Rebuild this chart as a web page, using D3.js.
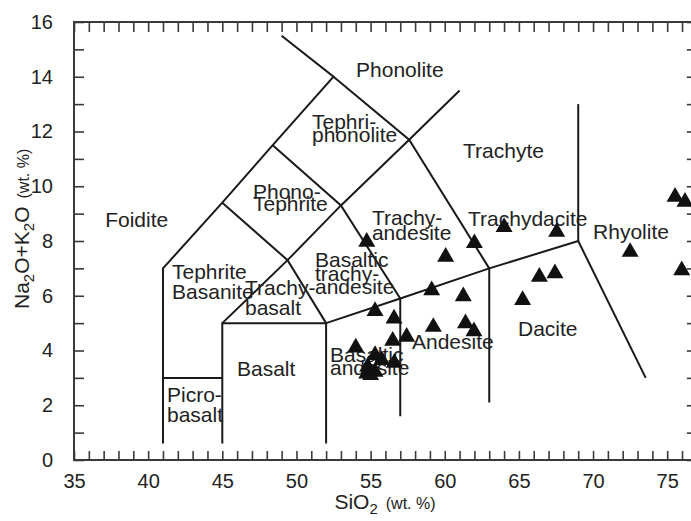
<!DOCTYPE html>
<html>
<head>
<meta charset="utf-8">
<script src="https://cdn.jsdelivr.net/npm/d3@7"></script>
<style>
  html, body { margin: 0; padding: 0; background: #fff; }
  svg { display: block; font-family: "Liberation Sans", Arial, sans-serif; }
</style>
</head>
<body>
<div id="chart"></div>
<script>
// TAS (total alkali vs silica) classification diagram

// axis extents and labelled ticks
const xDomain = [35, 77];
const yDomain = [0, 16];
const xTickLabels = [35, 40, 45, 50, 55, 60, 65, 70, 75];
const yTickLabels = [0, 2, 4, 6, 8, 10, 12, 14, 16];

// field boundaries (SiO2, Na2O+K2O)
const boundaries = [
  [[41, 0.6], [41, 7], [45, 9.4], [48.4, 11.5], [52.5, 14], [49, 15.5]],
  [[41, 3], [45, 3]],
  [[45, 0.6], [45, 5], [52, 5], [52, 0.6]],
  [[52, 5], [57, 5.9], [63, 7], [69, 8], [73.55, 3]],
  [[57, 1.6], [57, 5.9], [53, 9.3], [48.4, 11.5]],
  [[63, 2.1], [63, 7], [57.6, 11.7], [52.5, 14]],
  [[45, 5], [49.4, 7.3], [53, 9.3], [57.6, 11.7], [61, 13.5]],
  [[45, 9.4], [49.4, 7.3], [52, 5]],
  [[69, 8], [69, 13]]
];

// field names: lines, left edge and first baseline
const fieldNames = [
  { lines: ["Phonolite"], x: 54.02, y: 13.99, step: 0 },
  { lines: ["Tephri-", "phonolite"], x: 51.05, y: 12.09, step: 13 },
  { lines: ["Trachyte"], x: 61.23, y: 11.05, step: 0 },
  { lines: ["Phono-", "Tephrite"], x: 47.07, y: 9.53, step: 12 },
  { lines: ["Foidite"], x: 37.1, y: 8.51, step: 0 },
  { lines: ["Trachy-", "andesite"], x: 55.09, y: 8.57, step: 15 },
  { lines: ["Trachydacite"], x: 61.57, y: 8.55, step: 0 },
  { lines: ["Rhyolite"], x: 70.0, y: 8.07, step: 0 },
  { lines: ["Basaltic", "trachy-", "andesite"], x: 51.25, y: 7.05, step: 13.5 },
  { lines: ["Tephrite", "Basanite"], x: 41.61, y: 6.61, step: 20 },
  { lines: ["Trachy-", "basalt"], x: 46.53, y: 6.01, step: 20 },
  { lines: ["Dacite"], x: 64.94, y: 4.53, step: 0 },
  { lines: ["Andesite"], x: 57.79, y: 4.05, step: 0 },
  { lines: ["Basaltic", "andesite"], x: 52.26, y: 3.58, step: 13.5 },
  { lines: ["Basalt"], x: 45.99, y: 3.07, step: 0 },
  { lines: ["Picro-", "basalt"], x: 41.27, y: 2.12, step: 20 }
];

// samples
const sio2 = [54.74, 60.06, 62.0, 64.0, 59.12, 61.25, 55.3, 56.58, 59.23, 61.4, 61.97,
              57.43, 56.49, 54.0, 55.3, 55.75, 54.8, 56.6, 54.74, 55.3, 55.0,
              67.55, 66.38, 67.43, 65.25, 72.5, 75.53, 76.2, 75.98];
const alkali = [7.97, 7.42, 7.92, 8.51, 6.2, 5.98, 5.44, 5.17, 4.86, 4.99, 4.7,
                4.5, 4.35, 4.11, 3.83, 3.65, 3.4, 3.55, 3.16, 3.22, 3.1,
                8.33, 6.69, 6.82, 5.84, 7.6, 9.61, 9.43, 6.93];

const W = 691, H = 521;
const x = d3.scaleLinear().domain(xDomain).range([74, 74 + 42 * 14.83]);
const y = d3.scaleLinear().domain(yDomain).range([460, 22]);

const svg = d3.select("#chart").append("svg")
  .attr("width", W).attr("height", H);

const ink = "#1a1a1a";
const axisInk = "#3a3a3a";

// integer ticks, all pointing into the plot
const xInts = d3.range(xDomain[0], xDomain[1] + 1);
const yInts = d3.range(yDomain[0], yDomain[1] + 1);

function styleAxis(g) {
  g.select(".domain").remove();
  g.selectAll(".tick line").attr("stroke", axisInk).attr("stroke-width", 1.6);
  g.selectAll(".tick text").attr("fill", "#222").attr("font-size", 20)
    .attr("font-family", "Liberation Sans, Arial, sans-serif");
}

svg.append("g").attr("transform", `translate(0,${y(0)})`)
  .call(d3.axisBottom(x).tickValues(xInts).tickSize(-9).tickPadding(14)
    .tickFormat(d => xTickLabels.includes(d) ? d : ""))
  .call(styleAxis);
svg.append("g").attr("transform", `translate(0,${y(16)})`)
  .call(d3.axisTop(x).tickValues(xInts).tickSize(-10).tickFormat(""))
  .call(styleAxis);
svg.append("g").attr("transform", `translate(${x(35)},0)`)
  .call(d3.axisLeft(y).tickValues(yInts).tickSize(-10).tickPadding(21)
    .tickFormat(d => yTickLabels.includes(d) ? d : ""))
  .call(styleAxis);
svg.append("g").attr("transform", `translate(${x(77)},0)`)
  .call(d3.axisRight(y).tickValues(yInts).tickSize(-10).tickFormat(""))
  .call(styleAxis);

// frame
svg.append("rect")
  .attr("x", x(35)).attr("y", y(16))
  .attr("width", x(77) - x(35)).attr("height", y(0) - y(16))
  .attr("fill", "none").attr("stroke", axisInk).attr("stroke-width", 2);

// field boundaries
const line = d3.line().x(d => x(d[0])).y(d => y(d[1]));
svg.append("g").selectAll("path").data(boundaries).join("path")
  .attr("d", line).attr("fill", "none")
  .attr("stroke", ink).attr("stroke-width", 2).attr("stroke-linejoin", "miter");

// field names
const names = svg.append("g").attr("fill", "#222").attr("font-size", 21);
fieldNames.forEach(f => {
  f.lines.forEach((t, i) => {
    names.append("text")
      .attr("x", x(f.x)).attr("y", y(f.y) + i * f.step)
      .text(t);
  });
});

// sample points
const tri = d3.symbol().type(d3.symbolTriangle).size(125);
svg.append("g").selectAll("path").data(sio2).join("path")
  .attr("transform", (d, i) => `translate(${x(d)},${y(alkali[i])})`)
  .attr("d", tri).attr("fill", "#111");

// axis titles
const yt = svg.append("text")
  .attr("transform", `translate(29,309) rotate(-90)`)
  .attr("fill", "#222").attr("font-size", 21);
yt.append("tspan").text("Na");
yt.append("tspan").attr("font-size", 15).attr("dy", 5).text("2");
yt.append("tspan").attr("dy", -5).text("O+K");
yt.append("tspan").attr("font-size", 15).attr("dy", 5).text("2");
yt.append("tspan").attr("dy", -5).text("O");
yt.append("tspan").attr("font-size", 16).attr("dx", 8).text("(wt. %)");

const xt = svg.append("text")
  .attr("x", 385).attr("y", 509).attr("text-anchor", "middle")
  .attr("fill", "#222").attr("font-size", 21);
xt.append("tspan").text("SiO");
xt.append("tspan").attr("font-size", 15).attr("dy", 5).text("2");
xt.append("tspan").attr("font-size", 16).attr("dy", -5).attr("dx", 8).text("(wt. %)");
</script>
</body>
</html>
